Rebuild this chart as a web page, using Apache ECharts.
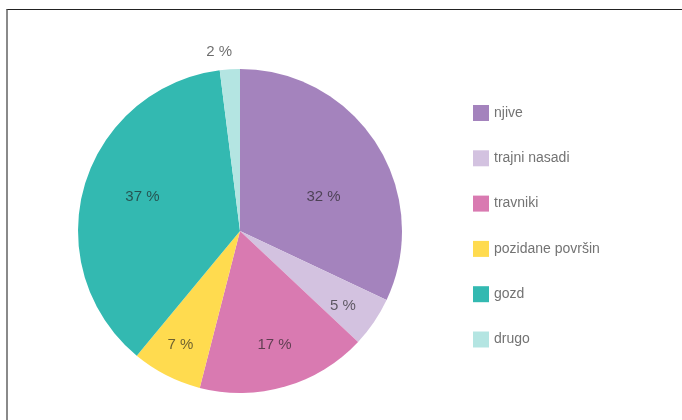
<!DOCTYPE html>
<html>
<head>
<meta charset="utf-8">
<script src="https://cdn.jsdelivr.net/npm/echarts@6/dist/echarts.min.js"></script>
<style>
html,body{margin:0;padding:0;background:#fff;}
#chart{width:682px;height:420px;position:relative;}
#frame{position:absolute;left:6px;top:9px;width:700px;height:430px;border-top:1px solid #222;border-left:2px solid #8a8a8a;pointer-events:none;box-sizing:border-box;}
</style>
</head>
<body>
<div id="chart"></div>
<div id="frame"></div>
<script>
const categories = ['njive', 'trajni nasadi', 'travniki', 'pozidane površine', 'gozd', 'drugo'];
const values = [32, 5, 17, 7, 37, 2];
const colors = ['#A483BD', '#D3C2E0', '#D97AB1', '#FFDB4F', '#33B9B1', '#B4E5E2'];
// label placement (distance from centre in px, angular nudge in degrees)
const labelRadius = [91, 126, 117, 127, 104, 182];
const labelAngleShift = [9, 1, -1, 1, 4, -3];

const CX = 240, CY = 231, R = 162;
const total = values.reduce((a, b) => a + b, 0);
const midAngles = [];
let acc = 0;
values.forEach(v => { midAngles.push((acc + v / 2) / total * 360); acc += v; });

const FONT = '"Liberation Sans", "Helvetica Neue", Helvetica, Arial, sans-serif';

const chart = echarts.init(document.getElementById('chart'), null, {renderer: 'canvas'});
chart.setOption({
  animation: false,
  color: colors,
  legend: {
    orient: 'vertical',
    left: 473,
    top: 105,
    padding: 0,
    itemWidth: 16,
    itemHeight: 16,
    itemGap: 29.3,
    icon: 'rect',
    selectedMode: false,
    data: categories,
    textStyle: {
      fontFamily: FONT,
      fontSize: 14,
      color: '#737373',
      width: 114,
      overflow: 'truncate',
      ellipsis: ''
    }
  },
  series: [{
    type: 'pie',
    center: [CX, CY],
    radius: [0, R],
    startAngle: 90,
    clockwise: true,
    silent: true,
    label: {
      show: true,
      position: 'inside',
      formatter: p => p.value + ' %',
      fontFamily: FONT,
      fontSize: 15,
      color: 'rgba(30,30,30,0.66)'
    },
    labelLine: {show: false},
    labelLayout: function (params) {
      const i = params.dataIndex;
      const a = (midAngles[i] + labelAngleShift[i]) * Math.PI / 180;
      const r = labelRadius[i];
      return {
        x: CX + r * Math.sin(a),
        y: CY - r * Math.cos(a) + 2,
        align: 'center',
        verticalAlign: 'middle'
      };
    },
    itemStyle: {borderWidth: 0},
    emphasis: {disabled: true},
    data: categories.map((c, i) => ({name: c, value: values[i]}))
  }]
});
</script>
</body>
</html>
